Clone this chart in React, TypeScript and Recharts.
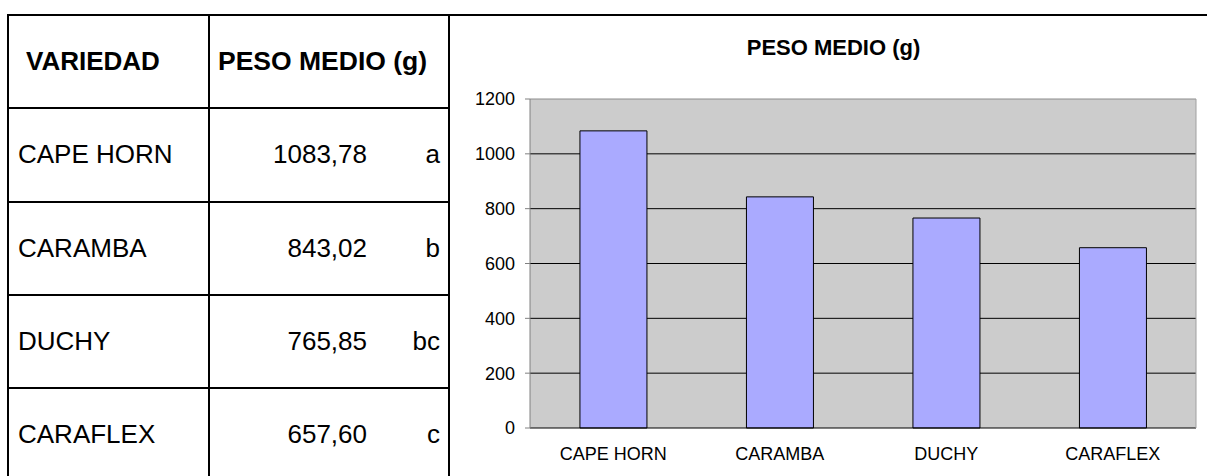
import React from 'react';
import { BarChart, Bar, XAxis, YAxis, CartesianGrid } from 'recharts';

// valores de la tabla / gráfico
const varieties = ['CAPE HORN', 'CARAMBA', 'DUCHY', 'CARAFLEX'];
const meanWeights = [1083.78, 843.02, 765.85, 657.6];
const groupLetters = ['a', 'b', 'bc', 'c'];
const yTicks = [0, 200, 400, 600, 800, 1000, 1200];
const gridValues = [200, 400, 600, 800, 1000];
const boundaryTicks = [0, 1, 2, 3, 4];

const chartData = varieties.map((v, i) => ({ name: v, peso: meanWeights[i] }));

const FONT = '"Liberation Sans", Arial, sans-serif';
const ROW_H = 93.3;
const TOP = 15;

const fmt = (n: number) => n.toFixed(2).replace('.', ',');

const HLine = ({ x, y, w }: { x: number; y: number; w: number }) => (
  <div style={{ position: 'absolute', left: x, top: y - 1, width: w, height: 2, background: '#000' }} />
);
const VLine = ({ x, y, h }: { x: number; y: number; h: number }) => (
  <div style={{ position: 'absolute', left: x - 1, top: y - 1, width: 2, height: h, background: '#000' }} />
);

export default function App() {
  return (
    <div
      style={{
        position: 'absolute',
        left: 0,
        top: 0,
        width: 1207,
        height: 476,
        background: '#fff',
        overflow: 'hidden',
        fontFamily: FONT,
        color: '#000',
      }}
    >
      {/* bordes de la tabla */}
      <HLine x={7} y={TOP} w={1200} />
      <VLine x={8} y={TOP} h={470} />
      <VLine x={209} y={TOP} h={470} />
      <VLine x={449} y={TOP} h={470} />
      {varieties.map((_, i) => (
        <HLine key={i} x={7} y={TOP + ROW_H * (i + 1)} w={443} />
      ))}

      {/* cabecera */}
      <div
        style={{
          position: 'absolute', left: 26, top: TOP, height: ROW_H, display: 'flex',
          alignItems: 'center', fontSize: 26, fontWeight: 'bold',
        }}
      >
        VARIEDAD
      </div>
      <div
        style={{
          position: 'absolute', left: 218, top: TOP, height: ROW_H, display: 'flex',
          alignItems: 'center', fontSize: 26.5, fontWeight: 'bold', whiteSpace: 'nowrap',
        }}
      >
        PESO MEDIO (g)
      </div>

      {/* filas */}
      {varieties.map((v, i) => {
        const top = TOP + ROW_H * (i + 1);
        return (
          <React.Fragment key={v}>
            <div
              style={{
                position: 'absolute', left: 18, top, height: ROW_H, display: 'flex',
                alignItems: 'center', fontSize: 26,
              }}
            >
              {v}
            </div>
            <div
              style={{
                position: 'absolute', left: 220, width: 147, top, height: ROW_H, display: 'flex',
                alignItems: 'center', justifyContent: 'flex-end', fontSize: 26,
              }}
            >
              {fmt(meanWeights[i])}
            </div>
            <div
              style={{
                position: 'absolute', left: 380, width: 60, top, height: ROW_H, display: 'flex',
                alignItems: 'center', justifyContent: 'flex-end', fontSize: 26,
              }}
            >
              {groupLetters[i]}
            </div>
          </React.Fragment>
        );
      })}

      {/* título del gráfico */}
      <div
        style={{
          position: 'absolute', left: 455, width: 757, top: 35, textAlign: 'center',
          fontSize: 22, fontWeight: 'bold', whiteSpace: 'nowrap',
        }}
      >
        PESO MEDIO (g)
      </div>

      <div style={{ position: 'absolute', left: 450, top: TOP }}>
        <BarChart
          width={757}
          height={461}
          data={chartData}
          margin={{ top: 83, right: 10, bottom: 17, left: 20 }}
          barCategoryGap="30%"
        >
          <CartesianGrid
            xAxisId="labels"
            yAxisId="v"
            vertical={false}
            horizontal
            horizontalValues={gridValues}
            stroke="#000"
            fill="#CCCCCC"
            fillOpacity={1}
          />
          <XAxis
            xAxisId="edge"
            type="number"
            orientation="bottom"
            domain={[0, 4]}
            ticks={boundaryTicks}
            allowDataOverflow
            height={1}
            tick={false}
            tickSize={5}
            tickLine={{ stroke: '#000' }}
            axisLine={{ stroke: '#000' }}
          />
          <XAxis
            xAxisId="labels"
            dataKey="name"
            height={30}
            axisLine={false}
            tickLine={false}
            tickSize={0}
            tickMargin={18}
            interval={0}
            tick={{ fill: '#000', fontSize: 18, fontFamily: FONT }}
          />
          <XAxis
            xAxisId="top"
            type="number"
            orientation="top"
            domain={[0, 4]}
            allowDataOverflow
            height={1}
            tick={false}
            tickLine={false}
            axisLine={{ stroke: '#8C8C8C' }}
          />
          <YAxis
            yAxisId="v"
            domain={[0, 1200]}
            ticks={yTicks}
            width={60}
            tickSize={5}
            tickMargin={10}
            tickLine={{ stroke: '#808080' }}
            axisLine={{ stroke: '#808080' }}
            tick={{ fill: '#000', fontSize: 18, fontFamily: FONT }}
          />
          <YAxis
            yAxisId="r"
            orientation="right"
            domain={[0, 1200]}
            allowDataOverflow
            width={1}
            tick={false}
            tickLine={false}
            axisLine={{ stroke: '#A0A0A0' }}
          />
          <Bar
            xAxisId="labels"
            yAxisId="v"
            dataKey="peso"
            fill="#AAAAFF"
            stroke="#000"
            strokeWidth={1}
            isAnimationActive={false}
          />
        </BarChart>
      </div>
    </div>
  );
}
